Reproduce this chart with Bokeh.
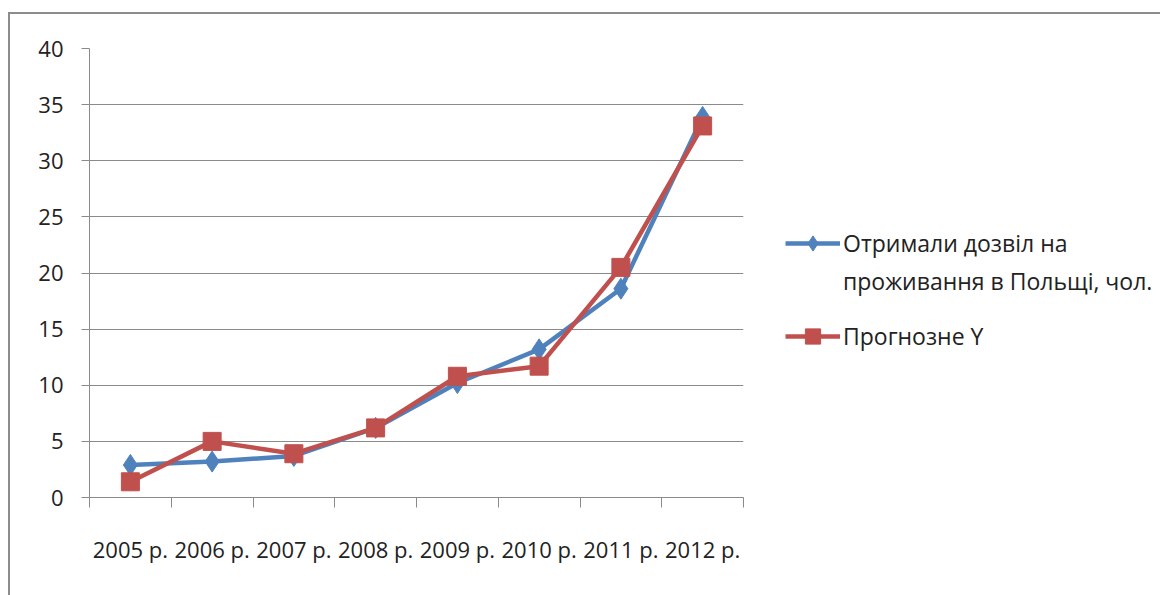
import numpy as np
from bokeh.plotting import figure
from bokeh.layouts import row
from bokeh.models import (Range1d, LinearAxis, FixedTicker, Legend, LegendItem, ColumnDataSource)
from bokeh.embed import file_html
from bokeh.resources import INLINE

years = ["2005 р.", "2006 р.", "2007 р.", "2008 р.", "2009 р.", "2010 р.", "2011 р.", "2012 р."]
actual = [2.9, 3.2, 3.7, 6.2, 10.2, 13.2, 18.6, 33.9]
forecast = [1.4, 5.0, 3.9, 6.2, 10.8, 11.7, 20.5, 33.1]
y_ticks = [0, 5, 10, 15, 20, 25, 30, 35, 40]
series_labels = ["Отримали дозвіл на", "проживання в Польщі, чол.", "Прогнозне Y"]

FONT = "Open Sans"
BLUE = "#4F81BD"
RED = "#C0504D"
GRID = "#8a8a8a"
TEXT = "#222222"

n = len(years)
xc = np.arange(n) + 0.5  # category centres

p = figure(width=735, height=581, output_backend="svg", toolbar_location=None,
           x_range=Range1d(0, n), y_range=Range1d(0, 40),
           x_axis_location=None, y_axis_location=None,
           min_border_left=79, min_border_right=2, min_border_top=34, min_border_bottom=98)
p.outline_line_color = None
p.xgrid.visible = False
p.ygrid.ticker = FixedTicker(ticks=y_ticks)
p.ygrid.grid_line_color = GRID
p.ygrid.grid_line_width = 1.2

yax = LinearAxis(ticker=FixedTicker(ticks=y_ticks))
yax.axis_line_color = GRID
yax.major_tick_line_color = GRID
yax.major_tick_out = 8
yax.major_tick_in = 0
yax.minor_tick_line_color = None
yax.major_label_standoff = 18
yax.major_label_text_font = FONT
yax.major_label_text_font_size = "22px"
yax.major_label_text_color = TEXT
p.add_layout(yax, "left")

# labels at category centres, tick marks (minor) at category boundaries
xax = LinearAxis(ticker=FixedTicker(ticks=list(xc), minor_ticks=list(range(n + 1))),
                 major_label_overrides={float(c): lab for c, lab in zip(xc, years)})
xax.axis_line_color = GRID
xax.major_tick_line_color = None
xax.major_tick_out = 16
xax.major_tick_in = 0
xax.minor_tick_line_color = GRID
xax.minor_tick_out = 10
xax.minor_tick_in = 0
xax.major_label_standoff = 20
xax.major_label_text_font = FONT
xax.major_label_text_font_size = "22px"
xax.major_label_text_color = TEXT
p.add_layout(xax, "below")

src = ColumnDataSource(dict(x=xc, a=actual, f=forecast))
p.line("x", "a", source=src, line_color=BLUE, line_width=4.5)
p.scatter("x", "a", source=src, marker="diamond", size=21, fill_color=BLUE, line_color=BLUE)
p.line("x", "f", source=src, line_color=RED, line_width=4.5)
p.scatter("x", "f", source=src, marker="square", size=18, fill_color=RED, line_color=RED)

# legend panel (its sample glyphs sit outside its visible range)
q = figure(width=415, height=581, output_backend="svg", toolbar_location=None,
           x_range=Range1d(0, 1), y_range=Range1d(0, 1),
           x_axis_location=None, y_axis_location=None,
           min_border_left=0, min_border_right=0, min_border_top=0, min_border_bottom=0)
q.outline_line_color = None
q.grid.visible = False
off = dict(x=[-5, -4], y=[-5, -4])
lb = q.line(x=off["x"], y=off["y"], line_color=BLUE, line_width=4.5)
mb = q.scatter(x=off["x"], y=off["y"], marker="diamond", size=17, fill_color=BLUE, line_color=BLUE)
lr = q.line(x=off["x"], y=off["y"], line_color=RED, line_width=4.5)
mr = q.scatter(x=off["x"], y=off["y"], marker="square", size=17, fill_color=RED, line_color=RED)
blank = q.line(x=off["x"], y=off["y"], line_alpha=0)

def make_legend(items, loc):
    lg = Legend(items=items, location=loc, orientation="vertical")
    lg.border_line_color = None
    lg.background_fill_alpha = 0
    lg.padding = 0
    lg.margin = 0
    lg.spacing = 0
    lg.glyph_width = 55
    lg.glyph_height = 38
    lg.label_height = 38
    lg.label_standoff = 3
    lg.label_text_font = FONT
    lg.label_text_font_size = "23px"
    lg.label_text_color = TEXT
    lg.label_text_baseline = "middle"
    return lg

leg1 = make_legend([LegendItem(label=series_labels[0], renderers=[lb, mb]),
                    LegendItem(label=series_labels[1], renderers=[blank])], (40, 197))
leg2 = make_legend([LegendItem(label=series_labels[2], renderers=[lr, mr])], (40, 142))
q.add_layout(leg1, "center")
q.add_layout(leg2, "center")

layout = row(p, q, styles={"border-top": "2px solid #8c8c8c", "border-left": "2px solid #8c8c8c",
                           "margin-left": "8px", "margin-top": "12px"})

open("out.html", "w").write(file_html(layout, INLINE))
